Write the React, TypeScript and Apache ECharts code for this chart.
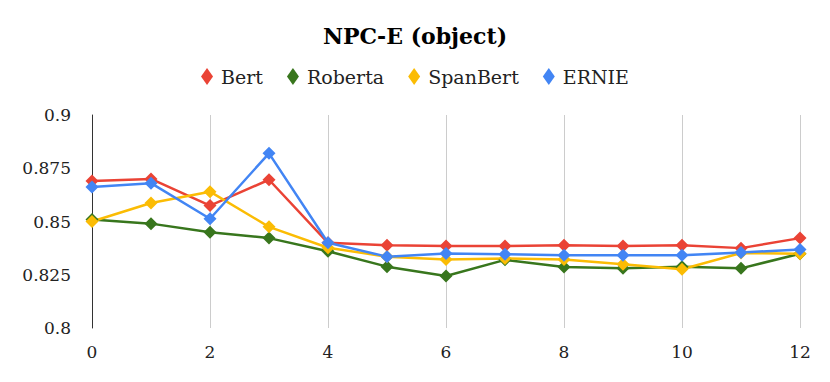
import React, { useEffect, useRef } from "react";
import * as echarts from "echarts";

const steps = [0, 1, 2, 3, 4, 5, 6, 7, 8, 9, 10, 11, 12];
const bert = [0.869, 0.870, 0.8575, 0.8696, 0.8400, 0.8388, 0.8385, 0.8385, 0.8388, 0.8385, 0.8388, 0.8375, 0.8422];
const roberta = [0.8509, 0.8490, 0.8450, 0.8422, 0.8360, 0.8288, 0.8244, 0.8320, 0.8286, 0.8280, 0.8288, 0.8280, 0.8349];
const spanbert = [0.8500, 0.8587, 0.8640, 0.8475, 0.8377, 0.8335, 0.8322, 0.8326, 0.8322, 0.8299, 0.8276, 0.8352, 0.8349];
const ernie = [0.8662, 0.8680, 0.8513, 0.8820, 0.8400, 0.8335, 0.8350, 0.8346, 0.8342, 0.8341, 0.8341, 0.8354, 0.8369];

const names = ["Bert", "Roberta", "SpanBert", "ERNIE"];
const colors = ["#EA4335", "#38761D", "#FBBC04", "#4285F4"];
const values = [bert, roberta, spanbert, ernie];

const FONT = "DejaVu Serif";

export default function App() {
  const ref = useRef<HTMLDivElement>(null);
  useEffect(() => {
    const chart = echarts.init(ref.current!, null, { renderer: "svg" });
    chart.setOption({
      animation: false,
      title: {
        text: "NPC-E (object)",
        left: "center",
        top: 12,
        textStyle: { fontFamily: FONT, fontSize: 22, fontWeight: "bold", color: "#000" },
      },
      legend: {
        top: 54,
        left: "center",
        icon: "diamond",
        itemWidth: 12,
        itemHeight: 17,
        itemGap: 24,
        textStyle: { fontFamily: FONT, fontSize: 19, color: "#222", padding: [0, 0, 0, 3] },
        data: names,
      },
      grid: { left: 84, right: 22, top: 107, bottom: 46, containLabel: false },
      xAxis: {
        type: "value",
        min: 0,
        max: 12,
        interval: 2,
        axisLine: { show: false },
        axisTick: { show: false },
        axisLabel: { fontFamily: FONT, fontSize: 17, color: "#222", margin: 15 },
        splitLine: { show: true, lineStyle: { color: "#cccccc", width: 1 } },
      },
      yAxis: {
        type: "value",
        min: 0.8,
        max: 0.9,
        interval: 0.025,
        axisLine: { show: true, onZero: false, lineStyle: { color: "#333", width: 1 } },
        axisTick: { show: false },
        axisLabel: { fontFamily: FONT, fontSize: 17, color: "#222", margin: 21 },
        splitLine: { show: false },
      },
      series: names.map((n, i) => ({
        name: n,
        type: "line",
        data: steps.map((s, j) => [s, values[i][j]]),
        symbol: "diamond",
        symbolSize: 13,
        lineStyle: { color: colors[i], width: 2.5 },
        itemStyle: { color: colors[i] },
        color: colors[i],
      })),
    });
    return () => chart.dispose();
  }, []);
  return <div ref={ref} style={{ width: 814, height: 366 }} />;
}
